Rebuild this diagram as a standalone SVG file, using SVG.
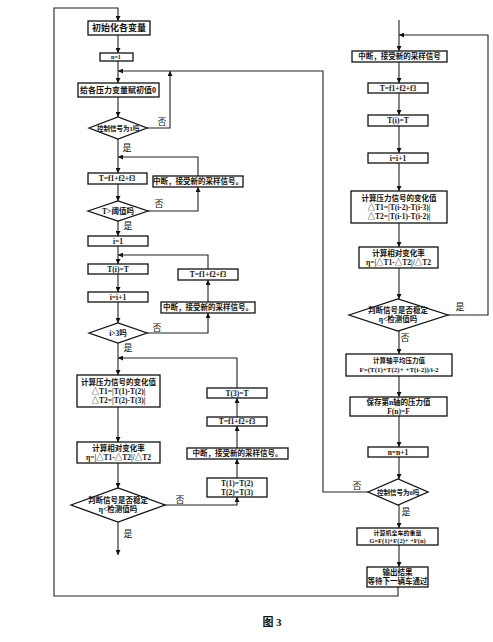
<svg xmlns="http://www.w3.org/2000/svg" width="493" height="642" viewBox="0 0 493 642">
<defs>
<marker id="ah" viewBox="0 0 10 10" refX="10" refY="5" markerWidth="5" markerHeight="5" markerUnits="userSpaceOnUse" orient="auto">
<path d="M0,0 L10,5 L0,10 z" fill="#111"/>
</marker>
<style>
.b{fill:#fff;stroke:#111;stroke-width:1.3}
.t{font-family:"Liberation Serif","Noto Sans CJK SC",serif;font-size:7.5px;fill:#111;text-anchor:middle;dominant-baseline:central;font-weight:bold}
.l{font-family:"Liberation Serif","Noto Sans CJK SC",serif;font-size:9px;fill:#111;text-anchor:middle;dominant-baseline:central}
.c{fill:none;stroke:#222;stroke-width:1.1}
.a{marker-end:url(#ah)}
</style>
</defs>
<rect width="493" height="642" fill="#fff"/>
<g id="connectors">
<path class="c a" d="M398,587 V596 H54 V8 H118 V21"/>
<path class="c a" d="M118,35 V53"/>
<path class="c a" d="M118,61 V83"/>
<path class="c a" d="M368,492 H323 V71 H118"/>
<path class="c a" d="M147,128 H170 V71"/>
<path class="c a" d="M118,97 V117"/>
<path class="c a" d="M118,139 V173"/>
<path class="c a" d="M198,176 V157 H118"/>
<path class="c a" d="M148,211 H198 V187"/>
<path class="c a" d="M118,184 V201"/>
<path class="c a" d="M118,221 V236"/>
<path class="c a" d="M118,246 V264"/>
<path class="c a" d="M208,269 V255 H118"/>
<path class="c a" d="M118,274 V292"/>
<path class="c a" d="M118,302 V323"/>
<path class="c a" d="M147,333 H208 V313"/>
<path class="c a" d="M208,302 V280"/>
<path class="c a" d="M118,343 V375"/>
<path class="c a" d="M237,388 V358 H118"/>
<path class="c a" d="M118,407 V442"/>
<path class="c a" d="M118,463 V488"/>
<path class="c a" d="M165,505 H237 V497"/>
<path class="c a" d="M237,478 V459"/>
<path class="c a" d="M237,448 V426"/>
<path class="c a" d="M237,417 V398"/>
<path class="c a" d="M118,522 V555"/>
<path class="c a" d="M399,20 V51"/>
<path class="c a" d="M448,315 H488 V35 H399"/>
<path class="c a" d="M399,62 V83"/>
<path class="c a" d="M399,93 V115"/>
<path class="c a" d="M399,126 V153"/>
<path class="c a" d="M399,163 V191"/>
<path class="c a" d="M399,223 V247"/>
<path class="c a" d="M399,268 V299"/>
<path class="c a" d="M399,331 V354"/>
<path class="c a" d="M399,376 V397"/>
<path class="c a" d="M399,416 V447"/>
<path class="c a" d="M399,457 V479"/>
<path class="c a" d="M399,505 V528"/>
<path class="c a" d="M399,545 V567"/>
</g>
<g id="labels">
<text class="l" x="162" y="122">否</text>
<text class="l" x="127" y="148">是</text>
<text class="l" x="159" y="204">否</text>
<text class="l" x="128" y="226">是</text>
<text class="l" x="157" y="328">否</text>
<text class="l" x="128" y="348">是</text>
<text class="l" x="180" y="500">否</text>
<text class="l" x="128" y="534">是</text>
<text class="l" x="460" y="307">是</text>
<text class="l" x="405" y="338">否</text>
<text class="l" x="357" y="486">否</text>
<text class="l" x="406" y="512">是</text>
</g>
<g id="n-init"><rect class="b" x="88" y="21" width="62" height="14"/><text class="t" x="119" y="28" style="font-size:9px">初始化各变量</text></g>
<g id="n-n1"><rect class="b" x="100" y="53" width="33" height="8"/><text class="t" x="116" y="57" style="font-size:6px">n=1</text></g>
<g id="n-assign"><rect class="b" x="78" y="83" width="81" height="14"/><text class="t" x="118" y="90" style="font-size:8px">给各压力变量赋初值0</text></g>
<g id="n-d1"><polygon class="b" points="89,128 118,117 147,128 118,139"/><text class="t" x="118" y="128" style="font-size:6.5px">控制信号为1吗</text></g>
<g id="n-sum1"><rect class="b" x="88" y="173" width="59" height="11"/><text class="t" x="117" y="178.5">T=f1+f2+f3</text></g>
<g id="n-int1"><rect class="b" x="153" y="176" width="90" height="11"/><text class="t" x="198" y="181.5">中断，接受新的采样信号。</text></g>
<g id="n-d2"><polygon class="b" points="88,211 118,201 148,211 118,221"/><text class="t" x="118" y="211">T&gt;阈值吗</text></g>
<g id="n-i1"><rect class="b" x="88" y="236" width="60" height="10"/><text class="t" x="118" y="241">i=1</text></g>
<g id="n-ti"><rect class="b" x="88" y="264" width="60" height="10"/><text class="t" x="118" y="269">T(i)=T</text></g>
<g id="n-sum2"><rect class="b" x="178" y="269" width="60" height="11"/><text class="t" x="208" y="274.5">T=f1+f2+f3</text></g>
<g id="n-iinc"><rect class="b" x="88" y="292" width="60" height="10"/><text class="t" x="118" y="297">i=i+1</text></g>
<g id="n-int2"><rect class="b" x="161" y="302" width="94" height="11"/><text class="t" x="208" y="307.5">中断，接受新的采样信号。</text></g>
<g id="n-d3"><polygon class="b" points="89,333 118,323 147,333 118,343"/><text class="t" x="118" y="333">i&gt;3吗</text></g>
<g id="n-calc1"><rect class="b" x="77" y="375" width="83" height="32"/><text class="t" x="118.5" y="382">计算压力信号的变化值</text><text class="t" x="118.5" y="391">△T1=|T(1)-T(2)|</text><text class="t" x="118.5" y="400">△T2=|T(2)-T(3)|</text></g>
<g id="n-t3"><rect class="b" x="207" y="388" width="60" height="10"/><text class="t" x="237" y="393">T(3)=T</text></g>
<g id="n-sum3"><rect class="b" x="207" y="417" width="60" height="9"/><text class="t" x="237" y="421.5">T=f1+f2+f3</text></g>
<g id="n-int3"><rect class="b" x="187" y="448" width="101" height="11"/><text class="t" x="237.5" y="453.5">中断，接受新的采样信号。</text></g>
<g id="n-shift"><rect class="b" x="207" y="478" width="60" height="19"/><text class="t" x="237" y="483">T(1)=T(2)</text><text class="t" x="237" y="492">T(2)=T(3)</text></g>
<g id="n-rate1"><rect class="b" x="77" y="442" width="83" height="21"/><text class="t" x="118.5" y="448">计算相对变化率</text><text class="t" x="118.5" y="457">η=|△T1-△T2|/△T2</text></g>
<g id="n-d4"><polygon class="b" points="71,505 118,488 165,505 118,522"/><text class="t" x="118" y="500">判断信号是否稳定</text><text class="t" x="118" y="509">η&lt;检测值吗</text></g>
<g id="n-int4"><rect class="b" x="352" y="51" width="95" height="11"/><text class="t" x="399.5" y="56.5">中断，接受新的采样信号</text></g>
<g id="n-sum4"><rect class="b" x="368" y="83" width="60" height="10"/><text class="t" x="398" y="88">T=f1+f2+f3</text></g>
<g id="n-ti2"><rect class="b" x="368" y="115" width="60" height="11"/><text class="t" x="398" y="120.5">T(i)=T</text></g>
<g id="n-iinc2"><rect class="b" x="368" y="153" width="60" height="10"/><text class="t" x="398" y="158">i=i+1</text></g>
<g id="n-calc2"><rect class="b" x="351" y="191" width="96" height="32"/><text class="t" x="399" y="198">计算压力信号的变化值</text><text class="t" x="399" y="207">△T1=|T(i-2)-T(i-3)|</text><text class="t" x="399" y="216">△T2=|T(i-1)-T(i-2)|</text></g>
<g id="n-rate2"><rect class="b" x="359" y="247" width="79" height="21"/><text class="t" x="398.5" y="253">计算相对变化率</text><text class="t" x="398.5" y="262">η=|△T1-△T2|/△T2</text></g>
<g id="n-d5"><polygon class="b" points="349,315 398,299 448,315 398,331"/><text class="t" x="398" y="310">判断信号是否稳定</text><text class="t" x="398" y="319">η&lt;检测值吗</text></g>
<g id="n-avg"><rect class="b" x="346" y="354" width="106" height="22"/><text class="t" x="399" y="360" style="font-size:6.5px">计算轴平均压力值</text><text class="t" x="399" y="369.5" style="font-size:7px">F=(T(1)+T(2)+    +T(i-2))/i-2</text></g>
<g id="n-save"><rect class="b" x="350" y="397" width="97" height="19"/><text class="t" x="398.5" y="402">保存第n轴的压力值</text><text class="t" x="398.5" y="411">F(n)=F</text></g>
<g id="n-ninc"><rect class="b" x="368" y="447" width="60" height="10"/><text class="t" x="398" y="452">n=n+1</text></g>
<g id="n-d6"><polygon class="b" points="368,492 398,479 428,492 398,505"/><text class="t" x="398" y="492" style="font-size:6.5px">控制信号为0吗</text></g>
<g id="n-total"><rect class="b" x="357" y="528" width="81" height="17"/><text class="t" x="397.5" y="532.5" style="font-size:6px">计算机全车的重量</text><text class="t" x="397.5" y="540.5" style="font-size:6.5px">G=F(1)+F(2)+    +F(n)</text></g>
<g id="n-out"><rect class="b" x="367" y="567" width="61" height="20"/><text class="t" x="397.5" y="572.5">输出结果</text><text class="t" x="397.5" y="581.5">等待下一辆车通过</text></g>
<text x="272" y="622" style="font-family:'Liberation Serif','Noto Sans CJK SC',serif;font-size:11px;font-weight:bold;fill:#111;text-anchor:middle;dominant-baseline:central">图 3</text>
</svg>
